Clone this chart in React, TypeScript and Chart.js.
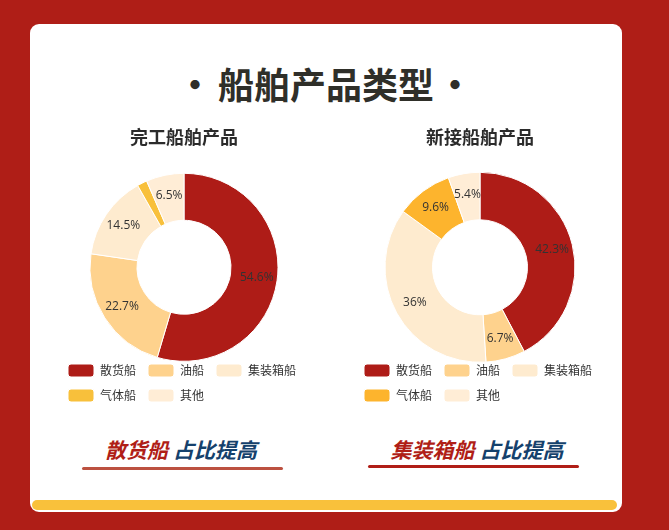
import React, { useEffect, useRef } from 'react';
import Chart from 'chart.js/auto';

const categories = ['散货船', '油船', '集装箱船', '气体船', '其他'];
const completedShare = [54.6, 22.7, 14.5, 1.7, 6.5];
const newOrderShare = [42.3, 6.7, 36, 9.6, 5.4];

const completedColors = ['#AE1C17', '#FED28D', '#FEEBCF', '#F8C03B', '#FFEDD6'];
const newOrderColors = ['#AE1C17', '#FED28D', '#FEEBCF', '#FDB42D', '#FFEDD6'];

const CJK = '"Noto Sans CJK SC", "Noto Sans", sans-serif';

// percent labels drawn in the middle of each ring slice
const sliceLabels = {
    id: 'sliceLabels',
    afterDatasetsDraw(chart: any) {
        const { ctx } = chart;
        const meta = chart.getDatasetMeta(0);
        const values = chart.data.datasets[0].data as number[];
        ctx.save();
        ctx.font = '12px "Open Sans", "Noto Sans", sans-serif';
        ctx.fillStyle = '#333333';
        ctx.textAlign = 'center';
        ctx.textBaseline = 'middle';
        meta.data.forEach((arc: any, i: number) => {
            if (values[i] < 3) return;
            const { x, y, startAngle, endAngle, innerRadius, outerRadius } = arc.getProps(
                ['x', 'y', 'startAngle', 'endAngle', 'innerRadius', 'outerRadius'], true);
            const mid = (startAngle + endAngle) / 2;
            const r = (innerRadius + outerRadius) / 2 + 3;
            ctx.fillText(`${values[i]}%`, x + Math.cos(mid) * r, y + Math.sin(mid) * r);
        });
        ctx.restore();
    },
};

type PanelProps = { title: string; values: number[]; colors: string[]; left: number; radius: number };

const DonutPanel: React.FC<PanelProps> = ({ title, values, colors, left, radius }) => {
    const canvasRef = useRef<HTMLCanvasElement>(null);

    useEffect(() => {
        if (!canvasRef.current) return;
        const chart = new Chart(canvasRef.current, {
            type: 'doughnut',
            data: {
                labels: categories,
                datasets: [{
                    data: values,
                    backgroundColor: colors,
                    borderColor: '#ffffff',
                    borderWidth: 1,
                }],
            },
            options: {
                responsive: true,
                maintainAspectRatio: false,
                animation: false,
                radius: radius,
                cutout: '50%',
                layout: { padding: 0 },
                plugins: {
                    title: {
                        display: true,
                        text: title,
                        color: '#2B2B2B',
                        font: { family: CJK, size: 18, weight: 'bold', lineHeight: 1.2 },
                        padding: { top: 6, bottom: 35 },
                    },
                    legend: {
                        position: 'bottom',
                        align: 'start',
                        labels: {
                            color: '#333333',
                            font: { family: CJK, size: 12 },
                            boxWidth: 26,
                            boxHeight: 13,
                            padding: 12,
                            useBorderRadius: true,
                            borderRadius: 3,
                        },
                    },
                    tooltip: { enabled: false },
                },
            },
            plugins: [sliceLabels],
        });
        return () => chart.destroy();
    }, []);

    return (
        <div style={{ position: 'absolute', left, top: 120, width: 256, height: 292 }}>
            <canvas ref={canvasRef} />
        </div>
    );
};

const Caption: React.FC<{ red: string; blue: string; cx: number; top: number; lineLeft: number; lineWidth: number; lineTop: number; lineColor: string }> =
    ({ red, blue, cx, top, lineLeft, lineWidth, lineTop, lineColor }) => (
        <>
            <div style={{
                position: 'absolute', left: cx - 150, width: 300, top, textAlign: 'center',
                fontFamily: CJK, fontSize: 21, fontWeight: 'bold', fontStyle: 'italic', lineHeight: '22px',
            }}>
                <span style={{ color: '#B01E17' }}>{red}</span>
                <span style={{ color: '#15416C' }}> {blue}</span>
            </div>
            <div style={{
                position: 'absolute', left: lineLeft, top: lineTop, width: lineWidth, height: 3,
                borderRadius: 2, background: lineColor,
            }} />
        </>
    );

const titleStyle: React.CSSProperties = {
    position: 'absolute', top: 63, textAlign: 'center',
    fontFamily: CJK, fontSize: 36, fontWeight: 'bold', color: '#2F2F29', lineHeight: '40px',
};

const App: React.FC = () => {
    return (
        <div style={{ position: 'absolute', left: 0, top: 0, width: 669, height: 530, background: '#AF1E17', overflow: 'hidden' }}>
            <div style={{ position: 'absolute', left: 30, top: 24, width: 592, height: 488, background: '#ffffff', borderRadius: 9 }} />
            <div style={{ position: 'absolute', left: 32, top: 500, width: 585, height: 10, background: '#F9C13B', borderRadius: 5 }} />

            <div style={{ ...titleStyle, left: 175, width: 40 }}>·</div>
            <div style={{ ...titleStyle, left: 176, width: 300 }}>船舶产品类型</div>
            <div style={{ ...titleStyle, left: 435, width: 40 }}>·</div>

            <DonutPanel title="完工船舶产品" values={completedShare} colors={completedColors} left={56} radius={94} />
            <DonutPanel title="新接船舶产品" values={newOrderShare} colors={newOrderColors} left={352} radius={95} />

            <Caption red="散货船" blue="占比提高" cx={181} top={438} lineLeft={82} lineWidth={201} lineTop={467} lineColor="#BC5140" />
            <Caption red="集装箱船" blue="占比提高" cx={477} top={438} lineLeft={368} lineWidth={211} lineTop={465} lineColor="#B01E17" />
        </div>
    );
};

export default App;
